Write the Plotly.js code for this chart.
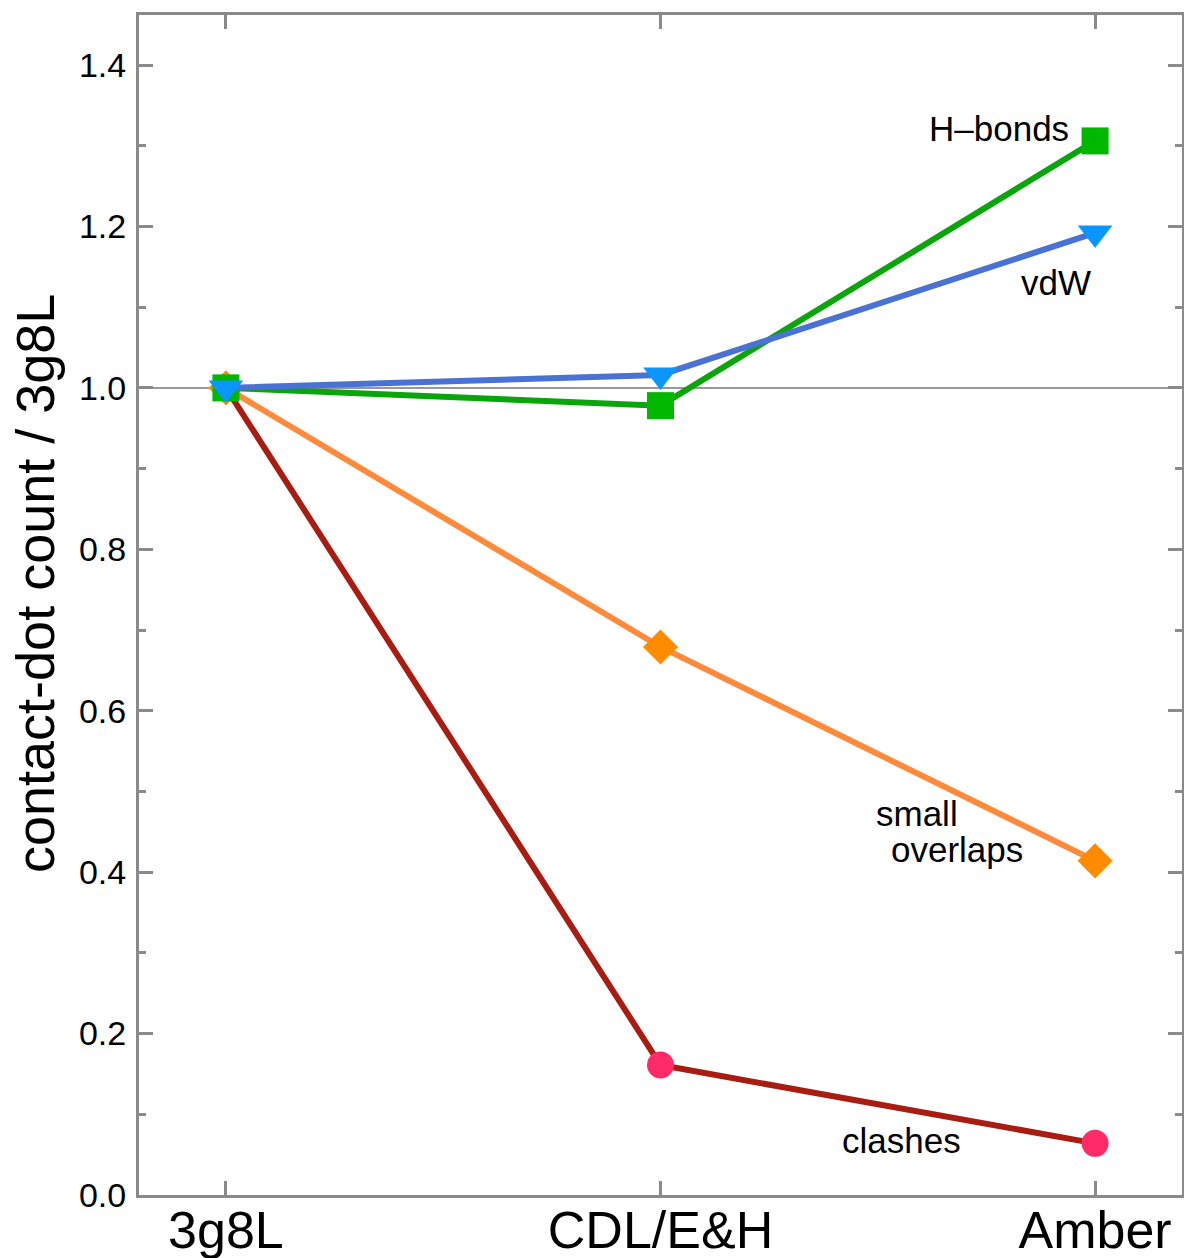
<!DOCTYPE html>
<html>
<head>
<meta charset="utf-8">
<script src="https://cdn.plot.ly/plotly-3.0.1.min.js"></script>
<style>html,body{margin:0;padding:0;background:#fff;}#chart{width:1184px;height:1258px;}</style>
</head>
<body>
<div id="chart"></div>
<script>
const categories = ["3g8L", "CDL/E&H", "Amber"];
const hbonds = [1.0, 0.978, 1.306];
const vdw = [1.0, 1.016, 1.192];
const smallOverlaps = [1.0, 0.679, 0.414];
const clashes = [1.0, 0.161, 0.064];
const yTickVals = [0.0, 0.2, 0.4, 0.6, 0.8, 1.0, 1.2, 1.4];
const yTickText = ["0.0", "0.2", "0.4", "0.6", "0.8", "1.0", "1.2", "1.4"];
const yTitle = "contact-dot count / 3g8L";

const xi = categories.map((c, i) => i);

const traces = [
  {x: xi, y: clashes, name: "clashes", mode: "lines+markers",
   line: {color: "#a81c12", width: 6},
   marker: {symbol: "circle", size: 27, color: "#ff2a68"}},
  {x: xi, y: smallOverlaps, name: "small overlaps", mode: "lines+markers",
   line: {color: "#ff8a3c", width: 6},
   marker: {symbol: "diamond", size: 27, color: "#ff8c00"}},
  {x: xi, y: hbonds, name: "H-bonds", mode: "lines+markers",
   line: {color: "#0aa50a", width: 6},
   marker: {symbol: "square", size: 27, color: "#00b800"}},
  {x: xi, y: vdw, name: "vdW", mode: "lines+markers",
   line: {color: "#4a72d4", width: 6},
   marker: {symbol: "triangle-down", size: 30, color: "#0a96ff"}}
];

const axisCommon = {
  showgrid: false, zeroline: false, showline: true, mirror: "allticks",
  linecolor: "#8a8a8a", linewidth: 3, ticks: "inside", tickcolor: "#8a8a8a",
  tickwidth: 3, ticklen: 14
};

const layout = {
  width: 1184, height: 1258,
  margin: {l: 139, r: 2, t: 15, b: 63},
  paper_bgcolor: "#fff", plot_bgcolor: "#fff",
  showlegend: false,
  font: {family: "Liberation Sans, Arial, sans-serif", color: "#000"},
  xaxis: Object.assign({}, axisCommon, {
    range: [-0.2, 2.2], tickvals: xi, ticktext: categories,
    tickfont: {size: 52, color: "#000"}, ticklabelstandoff: -12
  }),
  yaxis: Object.assign({}, axisCommon, {
    range: [0, 1.462], tickvals: yTickVals, ticktext: yTickText,
    tickfont: {size: 34, color: "#000"}, ticklabelstandoff: 3,
    minor: {dtick: 0.1, ticks: "inside", ticklen: 7, tickwidth: 3, tickcolor: "#8a8a8a", showgrid: false}
  }),
  shapes: [
    {type: "line", xref: "paper", x0: 0, x1: 1, yref: "y", y0: 1.0, y1: 1.0,
     line: {color: "#777", width: 1.5}, layer: "below"}
  ],
  annotations: [
    {x: -0.0997, y: 0.5178, xref: "paper", yref: "paper", text: yTitle, textangle: -90,
     xanchor: "center", yanchor: "middle", showarrow: false, font: {size: 54, color: "#000"}},
    {x: 1.779, y: 1.322, xref: "x", yref: "y", text: "H–bonds", showarrow: false, font: {size: 35, color: "#000"}},
    {x: 1.910, y: 1.131, xref: "x", yref: "y", text: "vdW", showarrow: false, font: {size: 35, color: "#000"}},
    {x: 1.591, y: 0.473, xref: "x", yref: "y", text: "small", showarrow: false, font: {size: 35, color: "#000"}},
    {x: 1.683, y: 0.428, xref: "x", yref: "y", text: "overlaps", showarrow: false, font: {size: 35, color: "#000"}},
    {x: 1.554, y: 0.067, xref: "x", yref: "y", text: "clashes", showarrow: false, font: {size: 35, color: "#000"}}
  ]
};

Plotly.newPlot("chart", traces, layout, {displayModeBar: false, staticPlot: true});
</script>
</body>
</html>
